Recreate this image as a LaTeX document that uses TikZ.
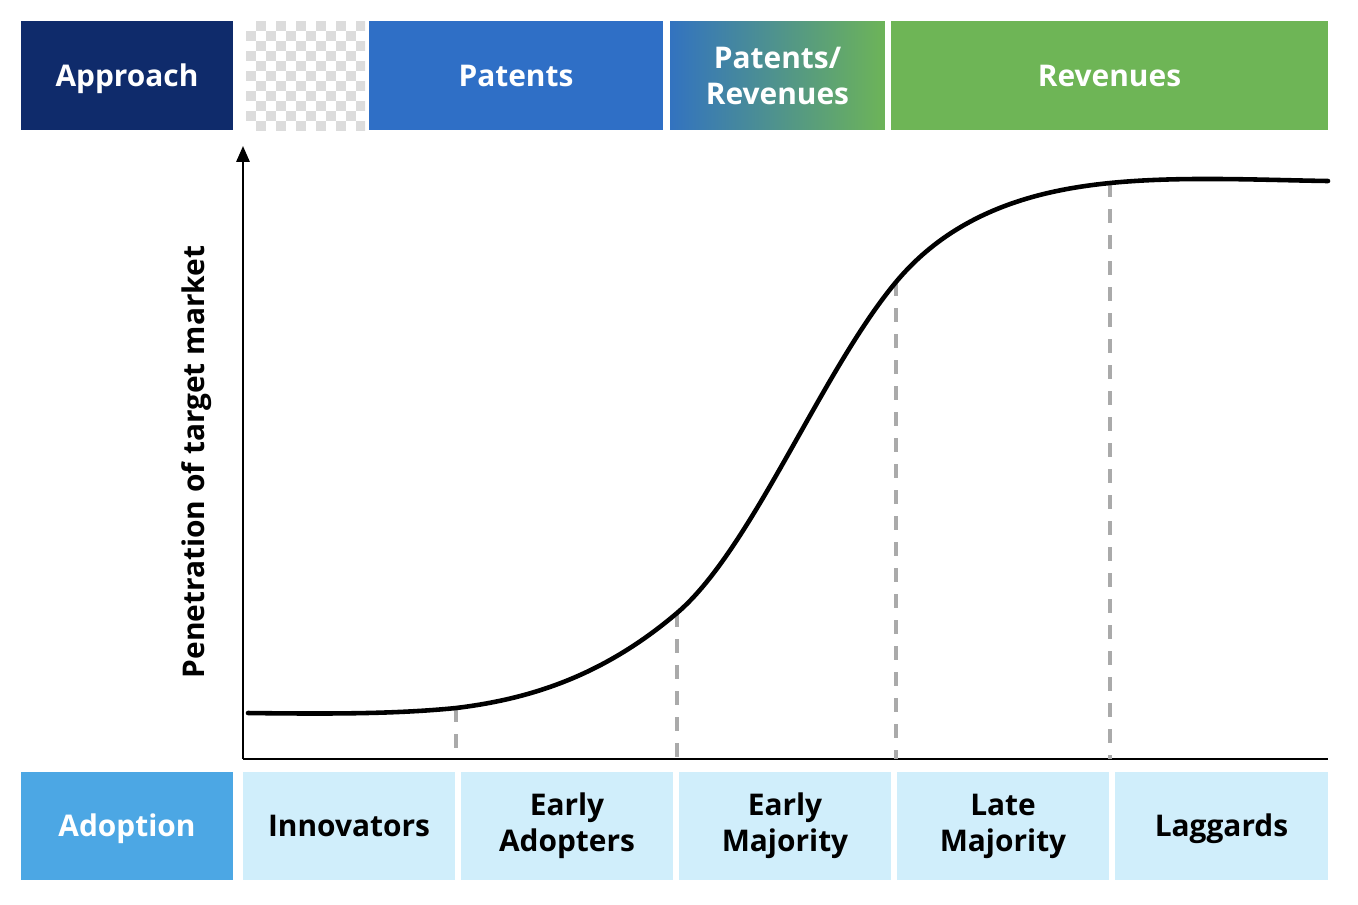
\documentclass[tikz,border=0pt]{standalone}
\usepackage{fontspec}
\setmainfont{Open Sans}
\usetikzlibrary{arrows.meta}
\definecolor{navy}{HTML}{0F2B6B}
\definecolor{patblue}{HTML}{2F6FC6}
\definecolor{revgreen}{HTML}{6EB556}
\definecolor{adoptblue}{HTML}{4CA7E4}
\definecolor{paleblue}{HTML}{D0EEFB}
\definecolor{checkgray}{HTML}{DCDCDC}
\definecolor{dashgray}{HTML}{AAAAAA}
\pgfdeclarehorizontalshading{patrev}{100bp}{color(0bp)=(patblue); color(22bp)=(patblue); color(76bp)=(revgreen); color(100bp)=(revgreen)}
\tikzset{
  lbl/.style={font=\fontsize{17}{20.5}\selectfont\bfseries, align=center, inner sep=0pt},
  oneline/.style={text height=12pt, text depth=0pt},
  topbox/.style={lbl, text=white, minimum height=2.18cm},
  phasebox/.style={lbl, fill=paleblue, minimum height=2.16cm, minimum width=4.24cm},
  divider/.style={dashgray, line width=2pt, dash pattern=on 8pt off 6.8pt}
}
\begin{document}
\begin{tikzpicture}[x=0.02cm, y=-0.02cm]
    \useasboundingbox (0,0) rectangle (1358,904);

    \node[topbox, oneline, fill=navy, minimum width=4.24cm] (approach) at (127,75.5) {Approach};
    \begin{scope}
      \clip (246,21) rectangle (365,130);
      \foreach \i in {0,...,11} {
        \foreach \j in {0,...,10} {
          \pgfmathparse{int(mod(\i+\j,2))}
          \ifnum\pgfmathresult=1
            \fill[checkgray] (246+\i*10,21+\j*10) rectangle ++(10,10);
          \fi
        }
      }
    \end{scope}
    \node[topbox, oneline, fill=patblue, minimum width=5.88cm] (patents) at (516,75.5) {Patents};
    \node[topbox, shading=patrev, minimum width=4.30cm] (patrev) at (777.5,75.5) {Patents/\\Revenues};
    \node[topbox, oneline, fill=revgreen, minimum width=8.74cm] (revenues) at (1109.5,75.5) {Revenues};

    \node[lbl, oneline, text=white, fill=adoptblue, minimum height=2.16cm, minimum width=4.24cm] (adoption) at (127,826) {Adoption};
    \node[phasebox, oneline] (innov) at (349,826) {Innovators};
    \node[phasebox] (early) at (567,826) {Early\\Adopters};
    \node[phasebox] (earlymaj) at (785,826) {Early\\Majority};
    \node[phasebox] (latemaj) at (1003,826) {Late\\Majority};
    \node[phasebox, oneline, minimum width=4.26cm] (lag) at (1221.5,826) {Laggards};

    \coordinate (origin) at (243,759);
    \coordinate (ytip) at (243,146);
    \coordinate (xend) at (1328,759);
    \draw[line width=1.2pt, -{Triangle[length=9pt, width=7.5pt]}] (origin) -- (ytip);
    \draw[line width=1.2pt] (origin) -- (xend);
    \node[lbl, rotate=90] (ylabel) at (197,462) {Penetration of target market};

    \coordinate (c1) at (456,708);
    \coordinate (c2) at (677,613);
    \coordinate (c3) at (896,282);
    \coordinate (c4) at (1110,183);
    \foreach \c in {c1,c2,c3,c4}
      \draw[divider] (\c) -- (\c |- origin);

    \draw[line width=2.6pt, line cap=round] (248,713)
      .. controls (330,714) and (396,714) .. (c1)
      .. controls (530,699) and (603,676) .. (c2)
      .. controls (752,549) and (821,372) .. (c3)
      .. controls (956,210) and (1040,190) .. (c4)
      .. controls (1180,176) and (1260,180) .. (1328,181);
  \end{tikzpicture}
\end{document}
